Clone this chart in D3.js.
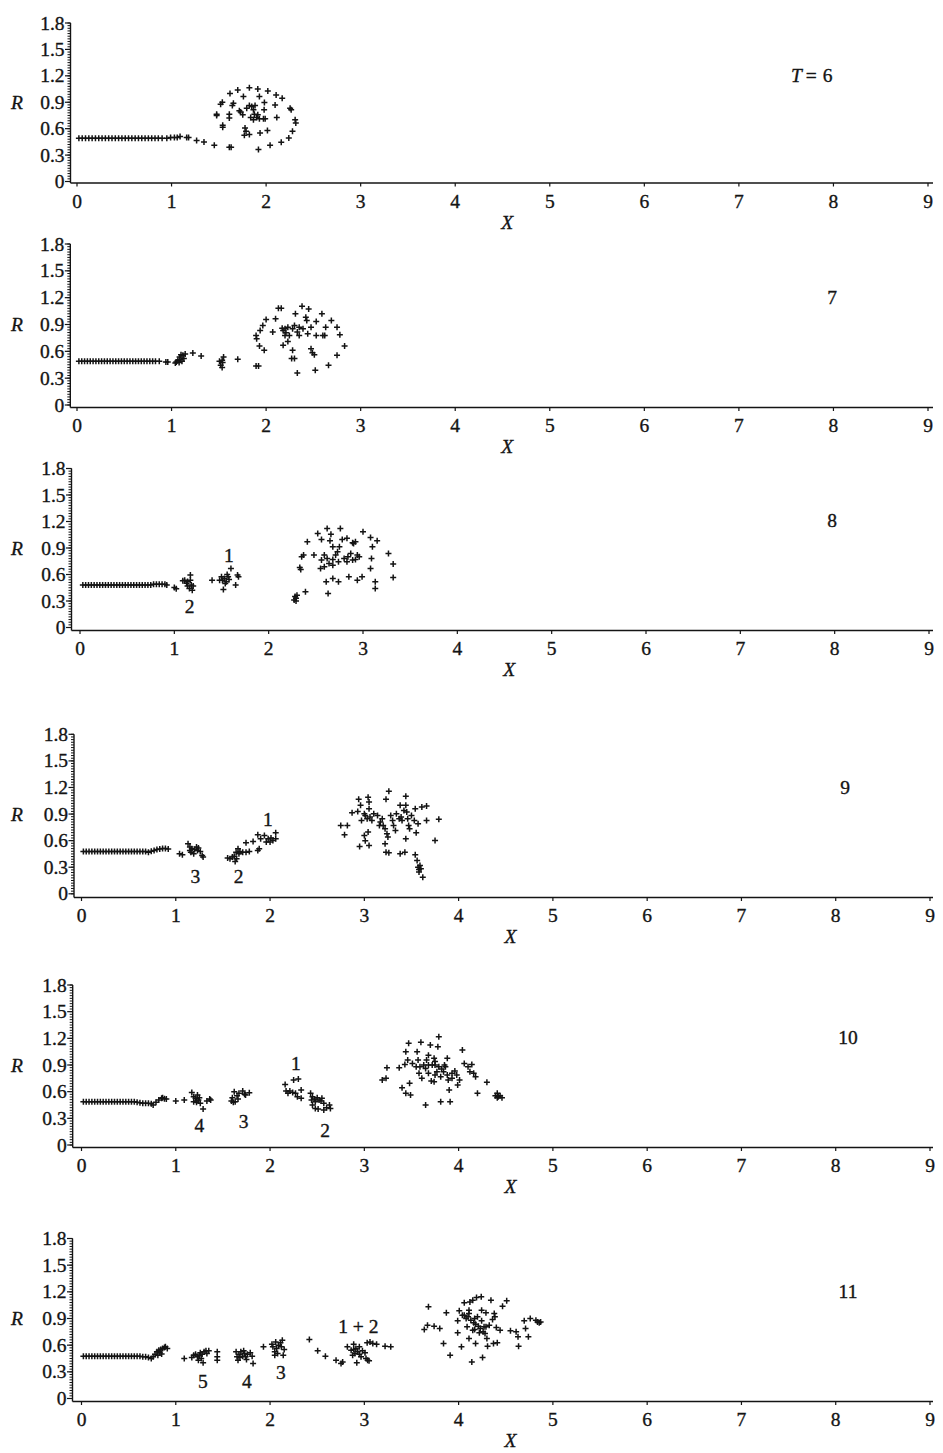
<!DOCTYPE html>
<html>
<head>
<meta charset="utf-8">
<script src="https://cdn.jsdelivr.net/npm/d3@7"></script>
<style>
  body { margin: 0; background: #fff; }
  text { font-family: "Liberation Serif", "Times New Roman", serif; fill: #141414; stroke: #141414; stroke-width: 0.35px; }
</style>
</head>
<body>
<svg id="chart" width="943" height="1453"></svg>
<script>
// Axis ticks shared by every panel
const xTicks = [0, 1, 2, 3, 4, 5, 6, 7, 8, 9];
const rTicks = [0, 0.3, 0.6, 0.9, 1.2, 1.5, 1.8];
const rTickLabels = ["0", "0.3", "0.6", "0.9", "1.2", "1.5", "1.8"];

// Time-step captions
const timeLabels = ["6", "7", "8", "9", "10", "11"];

// Particle positions [X, R] at each time step
const t6Points = [
  [0.02,0.49],[0.055,0.49],[0.09,0.49],[0.125,0.49],[0.16,0.49],[0.195,0.49],[0.23,0.49],[0.265,0.49],
  [0.30,0.49],[0.335,0.49],[0.37,0.49],[0.405,0.49],[0.44,0.49],[0.475,0.49],[0.51,0.49],[0.545,0.49],
  [0.58,0.49],[0.615,0.49],[0.65,0.49],[0.685,0.49],[0.72,0.49],[0.755,0.49],[0.79,0.49],[0.825,0.49],
  [0.86,0.49],[0.90,0.49],[0.95,0.49],[0.99,0.50],[1.03,0.50],[1.06,0.50],[1.09,0.51],[1.16,0.50],[1.18,0.50],
  [1.265,0.465],[1.343,0.45],[1.452,0.413],[1.611,0.39],[1.63,0.39],
  [1.477,0.765],[1.477,0.75],[1.519,0.878],[1.537,0.90],[1.541,0.638],[1.541,0.615],[1.618,1.0],[1.70,1.04],
  [1.654,0.89],[1.643,0.863],[1.611,0.765],[1.611,0.72],[1.76,0.964],[1.823,1.065],[1.912,1.05],[2.018,1.028],
  [2.106,0.983],[2.17,0.945],[1.929,0.964],[1.982,0.896],[2.095,0.87],[1.979,0.814],[2.254,0.833],[2.265,0.814],
  [2.307,0.70],[2.314,0.664],[2.279,0.57],[2.24,0.495],[2.16,0.446],[2.042,0.413],[1.919,0.364],[2.113,0.728],
  [2.014,0.578],[1.90,0.728],[1.837,0.728],[1.866,0.70],[1.929,0.713],[1.972,0.713],[1.99,0.713],[1.795,0.833],
  [1.823,0.863],[1.848,0.851],[1.883,0.863],[1.731,0.788],[1.753,0.758],[1.717,0.803],[1.777,0.608],[1.788,0.57],
  [1.823,0.533],[1.77,0.525],[1.936,0.551],[1.876,0.765],[1.912,0.758],[1.866,0.814]
];

const t7Points = [
  [0.02,0.49],[0.05,0.49],[0.08,0.49],[0.11,0.49],[0.14,0.49],[0.17,0.49],[0.20,0.49],[0.23,0.49],[0.26,0.49],
  [0.29,0.49],[0.32,0.49],[0.35,0.49],[0.38,0.49],[0.41,0.49],[0.44,0.49],[0.47,0.49],[0.50,0.49],[0.53,0.49],
  [0.56,0.49],[0.59,0.49],[0.62,0.49],[0.65,0.49],[0.68,0.49],[0.71,0.49],[0.74,0.49],[0.77,0.49],[0.80,0.49],
  [0.83,0.49],[0.87,0.49],[0.94,0.48],[0.96,0.48],
  [1.04,0.47],[1.05,0.48],[1.067,0.50],[1.085,0.537],[1.10,0.563],[1.12,0.556],[1.13,0.52],[1.11,0.49],[1.08,0.474],
  [1.144,0.57],[1.09,0.51],[1.225,0.581],[1.313,0.548],
  [1.535,0.50],[1.54,0.474],[1.52,0.444],[1.55,0.537],[1.507,0.489],[1.535,0.42],[1.70,0.511],[1.894,0.437],[1.92,0.437],
  [1.98,0.611],[1.93,0.659],[1.90,0.741],[1.894,0.778],[1.937,0.833],[1.965,0.889],[2.0,0.956],[2.07,0.815],
  [2.10,0.963],[2.13,1.081],[2.16,1.081],[2.17,0.859],[2.18,0.833],[2.20,0.852],[2.21,0.807],[2.23,0.87],
  [2.246,0.778],[2.23,0.711],[2.18,0.667],[2.28,0.852],[2.30,0.889],[2.31,1.019],[2.38,1.104],[2.45,1.074],
  [2.42,0.981],[2.43,0.944],[2.39,0.852],[2.44,0.796],[2.475,0.87],[2.53,0.933],[2.59,1.019],[2.69,0.944],
  [2.75,0.87],[2.78,0.785],[2.83,0.659],[2.75,0.556],[2.66,0.444],[2.52,0.389],[2.33,0.359],[2.27,0.519],
  [2.30,0.519],[2.28,0.611],[2.475,0.63],[2.49,0.585],[2.51,0.563],[2.53,0.778],[2.60,0.778],[2.63,0.87],
  [2.62,0.778],[2.35,0.778],[2.35,0.87],[2.33,0.815],[2.20,0.778]
];

const t8Points = [
  [0.03,0.48],[0.06,0.48],[0.09,0.48],[0.12,0.48],[0.15,0.48],[0.18,0.48],[0.21,0.48],[0.24,0.48],[0.27,0.48],
  [0.30,0.48],[0.33,0.48],[0.36,0.48],[0.39,0.48],[0.42,0.48],[0.45,0.48],[0.48,0.48],[0.51,0.48],[0.54,0.48],
  [0.57,0.48],[0.60,0.48],[0.63,0.48],[0.66,0.48],[0.69,0.48],[0.72,0.48],[0.75,0.48],[0.78,0.49],[0.81,0.49],
  [0.84,0.49],[0.87,0.49],[0.90,0.49],[0.92,0.48],
  [1.0,0.453],[1.02,0.44],
  [1.09,0.529],[1.11,0.536],[1.13,0.50],[1.14,0.52],[1.17,0.593],[1.17,0.536],[1.18,0.48],[1.16,0.442],
  [1.19,0.423],[1.20,0.47],[1.14,0.47],
  [1.40,0.536],[1.50,0.574],[1.51,0.536],[1.53,0.555],[1.55,0.518],[1.57,0.574],[1.58,0.544],[1.52,0.43],
  [1.54,0.499],[1.60,0.668],[1.48,0.536],[1.56,0.60],[1.65,0.48],[1.67,0.593],[1.68,0.574],
  [2.27,0.31],[2.29,0.33],[2.30,0.366],[2.28,0.35],[2.29,0.30],[2.39,0.404],
  [2.33,0.68],[2.34,0.657],[2.35,0.80],[2.37,0.82],[2.41,0.97],[2.48,0.82],[2.52,1.065],[2.56,0.997],
  [2.62,1.122],[2.66,1.057],[2.76,1.122],[2.83,1.009],[2.89,0.96],[3.0,1.084],[3.08,1.02],[3.15,0.982],
  [3.10,0.914],[3.27,0.839],[3.32,0.718],[3.32,0.567],[3.13,0.518],[3.13,0.442],[3.08,0.669],[3.09,0.782],
  [2.99,0.574],[2.94,0.536],[2.85,0.574],[2.74,0.518],[2.68,0.555],[2.61,0.518],[2.63,0.385],[2.55,0.669],
  [2.56,0.763],[2.59,0.82],[2.62,0.782],[2.64,0.725],[2.68,0.77],[2.71,0.82],[2.73,0.858],[2.75,0.914],
  [2.78,0.997],[2.80,0.782],[2.84,0.80],[2.87,0.839],[2.89,0.763],[2.92,0.77],[2.94,0.82],[2.92,0.97],
  [2.96,0.80],[2.83,0.744],[2.74,0.744],[2.68,0.706],[2.59,0.688],[2.65,0.982],[2.68,0.914],[2.90,0.952]
];

const t9Points = [
  [0.02,0.478],[0.05,0.478],[0.08,0.478],[0.11,0.478],[0.14,0.478],[0.17,0.478],[0.20,0.478],[0.23,0.478],
  [0.26,0.478],[0.29,0.478],[0.32,0.478],[0.35,0.478],[0.38,0.478],[0.41,0.478],[0.44,0.478],[0.47,0.478],
  [0.50,0.478],[0.53,0.478],[0.56,0.478],[0.59,0.478],[0.62,0.478],[0.65,0.478],[0.68,0.478],[0.71,0.47],
  [0.74,0.48],[0.77,0.49],[0.80,0.50],[0.83,0.505],[0.86,0.51],[0.89,0.51],[0.92,0.505],
  [1.04,0.452],[1.07,0.44],
  [1.13,0.565],[1.15,0.527],[1.17,0.508],[1.20,0.50],[1.22,0.527],[1.24,0.516],[1.26,0.478],[1.16,0.47],
  [1.19,0.452],[1.28,0.433],[1.29,0.414],[1.23,0.49],[1.15,0.49],
  [1.55,0.403],[1.575,0.395],[1.60,0.414],[1.62,0.425],[1.64,0.47],[1.66,0.508],[1.67,0.452],[1.645,0.395],
  [1.63,0.365],[1.68,0.478],[1.71,0.47],[1.745,0.47],[1.78,0.478],
  [1.745,0.576],[1.82,0.591],[1.87,0.49],[1.885,0.508],[1.90,0.621],[1.87,0.666],[1.94,0.659],[1.98,0.621],
  [2.0,0.584],[2.03,0.602],[2.06,0.621],[2.01,0.629],[2.06,0.689],[1.96,0.584],
  [2.75,0.772],[2.82,0.772],[2.79,0.666],[2.87,0.915],[2.93,0.93],[2.96,0.998],[2.94,1.066],[3.04,1.09],
  [3.05,1.035],[3.05,0.96],[3.0,0.659],[3.01,0.60],[3.05,0.546],[2.95,0.535],[3.04,0.697],[3.01,0.885],
  [3.03,0.847],[3.06,0.866],[3.08,0.828],[3.10,0.904],[3.14,0.885],[3.17,0.81],[3.19,0.847],[3.20,0.772],
  [3.22,0.734],[3.24,0.678],[3.22,0.565],[3.25,0.64],[3.23,1.066],[3.26,1.156],[3.28,0.885],[3.30,0.828],
  [3.31,0.772],[3.23,0.47],[3.26,0.463],[3.34,0.904],[3.37,0.847],[3.38,0.998],[3.40,0.828],[3.44,1.10],
  [3.44,0.998],[3.45,0.922],[3.46,0.847],[3.47,0.772],[3.48,0.734],[3.44,0.621],[3.43,0.47],[3.38,0.452],
  [3.50,0.885],[3.53,0.828],[3.54,0.96],[3.55,0.689],[3.57,0.79],[3.61,0.979],[3.66,0.99],[3.66,0.828],
  [3.79,0.84],[3.75,0.602],[3.54,0.44],[3.56,0.376],[3.57,0.30],[3.58,0.275],[3.60,0.282],[3.58,0.245],
  [3.62,0.188],[3.59,0.32],[3.42,0.941],[3.39,0.866],[3.16,0.772],[3.33,0.715],[2.97,0.828],[3.0,0.904]
];

const t10Points = [
  [0.02,0.487],[0.05,0.487],[0.08,0.487],[0.11,0.487],[0.14,0.487],[0.17,0.487],[0.20,0.487],[0.23,0.487],
  [0.26,0.487],[0.29,0.487],[0.32,0.487],[0.35,0.487],[0.38,0.487],[0.41,0.487],[0.44,0.487],[0.47,0.487],
  [0.50,0.487],[0.53,0.487],[0.56,0.487],[0.59,0.48],[0.62,0.475],[0.65,0.47],[0.68,0.47],[0.71,0.47],
  [0.74,0.465],[0.76,0.45],[0.79,0.48],[0.82,0.506],[0.85,0.525],[0.86,0.532],[0.88,0.52],[0.90,0.517],
  [1.0,0.495],[1.09,0.506],
  [1.17,0.592],[1.19,0.544],[1.21,0.525],[1.22,0.495],[1.24,0.506],[1.25,0.532],[1.22,0.48],[1.26,0.469],
  [1.29,0.405],[1.33,0.495],[1.36,0.517],[1.37,0.506],[1.19,0.487],[1.23,0.562],
  [1.59,0.495],[1.60,0.532],[1.62,0.60],[1.65,0.555],[1.66,0.517],[1.67,0.581],[1.71,0.607],[1.73,0.57],
  [1.74,0.562],[1.78,0.589],[1.63,0.487],[1.61,0.48],
  [2.16,0.682],[2.17,0.607],[2.21,0.607],[2.24,0.592],[2.27,0.581],[2.25,0.731],[2.30,0.742],[2.33,0.618],
  [2.33,0.525],[2.29,0.544],[2.19,0.581],
  [2.43,0.581],[2.45,0.544],[2.47,0.517],[2.48,0.487],[2.50,0.532],[2.52,0.506],[2.54,0.495],[2.55,0.525],
  [2.45,0.45],[2.48,0.412],[2.51,0.405],[2.57,0.394],[2.60,0.42],[2.63,0.45],[2.64,0.412],[2.57,0.469],[2.44,0.506],
  [3.19,0.731],[3.23,0.75],[3.24,0.87],[3.37,0.87],[3.40,0.645],[3.44,0.581],[3.49,0.562],[3.43,0.907],
  [3.44,1.05],[3.47,1.144],[3.46,0.956],[3.48,0.694],[3.51,0.918],[3.55,0.881],[3.56,1.05],[3.57,0.956],
  [3.58,0.806],[3.60,1.155],[3.61,0.75],[3.63,0.90],[3.65,0.45],[3.66,0.956],[3.68,1.01],[3.68,0.806],
  [3.70,1.125],[3.71,0.72],[3.74,0.712],[3.74,0.975],[3.75,0.90],[3.77,0.825],[3.79,1.219],[3.78,1.106],
  [3.81,0.769],[3.82,0.855],[3.85,0.90],[3.88,0.975],[3.81,0.487],[3.91,0.487],[3.89,0.731],[3.90,0.619],
  [3.93,0.806],[3.96,0.832],[3.98,0.787],[3.99,0.675],[4.04,1.069],[4.01,0.731],[4.06,0.918],[4.10,0.881],
  [4.12,0.825],[4.14,0.907],[4.16,0.806],[4.18,0.769],[4.20,0.581],[4.30,0.705],
  [4.39,0.555],[4.41,0.581],[4.42,0.544],[4.44,0.555],[4.46,0.532],[4.41,0.532],
  [3.72,0.90],[3.75,0.938],[3.79,0.881],[3.84,0.825],[3.88,0.787],[3.65,0.862],[3.68,0.90],[3.59,0.881],
  [3.86,0.881],[3.93,0.75],[3.75,0.787]
];

const t11Points = [
  [0.02,0.476],[0.05,0.476],[0.08,0.476],[0.11,0.476],[0.14,0.476],[0.17,0.476],[0.20,0.476],[0.23,0.476],
  [0.26,0.476],[0.29,0.476],[0.32,0.476],[0.35,0.476],[0.38,0.476],[0.41,0.476],[0.44,0.476],[0.47,0.476],
  [0.50,0.476],[0.53,0.476],[0.56,0.476],[0.59,0.476],[0.62,0.476],[0.65,0.47],[0.68,0.469],[0.71,0.46],
  [0.74,0.45],[0.76,0.469],[0.78,0.499],[0.80,0.525],[0.82,0.544],[0.84,0.551],[0.86,0.562],[0.88,0.574],
  [0.89,0.581],[0.91,0.562],[0.83,0.514],[0.85,0.50],[0.81,0.487],
  [1.09,0.45],
  [1.17,0.461],[1.19,0.487],[1.21,0.499],[1.23,0.469],[1.25,0.487],[1.26,0.514],[1.28,0.499],[1.30,0.525],
  [1.32,0.536],[1.33,0.506],[1.27,0.45],[1.29,0.401],[1.24,0.431],[1.35,0.536],[1.44,0.525],[1.44,0.469],[1.44,0.431],
  [1.64,0.525],[1.65,0.469],[1.66,0.431],[1.67,0.499],[1.69,0.525],[1.71,0.476],[1.73,0.506],[1.74,0.469],
  [1.76,0.499],[1.79,0.514],[1.81,0.476],[1.82,0.394],[1.68,0.461],[1.75,0.439],[1.72,0.536],
  [1.93,0.581],
  [2.02,0.611],[2.03,0.581],[2.05,0.525],[2.06,0.637],[2.07,0.562],[2.08,0.506],[2.09,0.60],[2.11,0.626],
  [2.12,0.581],[2.13,0.656],[2.14,0.487],[2.15,0.551],[2.05,0.487],
  [2.417,0.664],[2.505,0.536],[2.587,0.476],[2.70,0.431],[2.753,0.394],[2.77,0.412],[2.82,0.581],[2.86,0.544],
  [2.887,0.611],[2.90,0.506],[2.876,0.487],[2.91,0.562],[2.93,0.525],[2.947,0.499],[2.92,0.401],[2.965,0.469],
  [2.98,0.536],[3.007,0.514],[3.018,0.45],[3.035,0.431],[3.05,0.424],[3.03,0.626],[3.06,0.637],[3.09,0.619],
  [3.13,0.611],[3.22,0.589],[3.28,0.581],[2.947,0.581],[2.887,0.551],
  [3.636,0.776],[3.67,0.825],[3.74,0.814],[3.80,0.787],[3.68,1.031],[3.84,0.619],[3.87,0.964],[3.91,0.487],
  [3.99,0.739],[3.99,0.874],[4.007,0.986],[4.03,0.581],[4.04,0.937],[4.06,1.076],[4.08,0.90],[4.09,0.806],
  [4.10,0.919],[4.11,0.994],[4.12,1.087],[4.11,0.675],[4.14,0.412],[4.15,1.106],[4.16,0.851],[4.17,0.776],
  [4.18,0.619],[4.19,1.136],[4.20,0.919],[4.21,0.814],[4.22,0.739],[4.24,1.144],[4.244,0.994],[4.244,0.874],
  [4.254,0.461],[4.27,0.806],[4.28,0.731],[4.30,0.675],[4.307,0.589],[4.29,0.964],[4.325,0.825],[4.343,1.106],
  [4.36,0.889],[4.378,0.956],[4.385,0.919],[4.40,0.799],[4.37,0.619],[4.41,0.626],[4.44,0.769],[4.466,1.039],
  [4.51,1.099],[4.55,0.761],[4.61,0.75],[4.63,0.694],[4.636,0.589],[4.696,0.874],[4.71,0.787],[4.74,0.694],
  [4.76,0.90],[4.82,0.881],[4.837,0.862],[4.855,0.851],[4.87,0.862],
  [4.06,0.937],[4.13,0.881],[4.18,0.836],[4.23,0.787],[4.26,0.75],[4.17,0.90],[4.29,0.806],[4.15,0.769],[4.11,0.956]
];

// Group numbers written beside the clusters: [text, X, R]
const t6Labels = [];
const t7Labels = [];
const t8Labels = [["1", 1.577, 0.81], ["2", 1.162, 0.242]];
const t9Labels = [["1", 1.977, 0.836], ["2", 1.667, 0.20], ["3", 1.209, 0.20]];
const t10Labels = [["1", 2.273, 0.915], ["2", 2.583, 0.161], ["3", 1.72, 0.27], ["4", 1.251, 0.214]];
const t11Labels = [["1 + 2", 2.936, 0.814], ["3", 2.116, 0.289], ["4", 1.754, 0.187], ["5", 1.288, 0.187]];

// Panel geometry (pixels)
const panels = [
  { pts: t6Points,  labels: t6Labels,  caption: timeLabels[0], axisX: 70.5, xr: [77, 928],   axisY: 183,    y0: 181.5,  h: 158.5, capX: 791, first: true },
  { pts: t7Points,  labels: t7Labels,  caption: timeLabels[1], axisX: 70.3, xr: [77, 928],   axisY: 407.5,  y0: 405,    h: 161,   capX: 832 },
  { pts: t8Points,  labels: t8Labels,  caption: timeLabels[2], axisX: 71.5, xr: [80, 929],   axisY: 630.5,  y0: 627.5,  h: 159,   capX: 832 },
  { pts: t9Points,  labels: t9Labels,  caption: timeLabels[3], axisX: 74,   xr: [81.5, 930], axisY: 897.5,  y0: 893.8,  h: 159.5, capX: 845 },
  { pts: t10Points, labels: t10Labels, caption: timeLabels[4], axisX: 72.7, xr: [81.5, 930], axisY: 1147.5, y0: 1145,   h: 160,   capX: 848 },
  { pts: t11Points, labels: t11Labels, caption: timeLabels[5], axisX: 72.5, xr: [81.5, 930], axisY: 1401.5, y0: 1398.5, h: 160,   capX: 848 }
];

const ink = "#141414";
const fs = 19.5;
const svg = d3.select("#chart");
svg.append("rect").attr("width", 943).attr("height", 1453).attr("fill", "#fff");

const plus = "M-3,0H3M0,-3V3";

panels.forEach(p => {
  const x = d3.scaleLinear().domain([0, 9]).range(p.xr);
  const y = d3.scaleLinear().domain([0, 1.8]).range([p.y0, p.y0 - p.h]);
  const g = svg.append("g");

  // vertical axis with fine graduation
  g.append("line")
    .attr("x1", p.axisX).attr("x2", p.axisX)
    .attr("y1", p.axisY).attr("y2", y(1.8))
    .attr("stroke", ink).attr("stroke-width", 1.4);
  g.selectAll(".minor").data(d3.range(0, 61).map(i => i * 0.03))
    .join("line")
    .attr("x1", p.axisX - 3).attr("x2", p.axisX)
    .attr("y1", d => y(d)).attr("y2", d => y(d))
    .attr("stroke", ink).attr("stroke-width", 1);
  g.selectAll(".major").data(rTicks)
    .join("line")
    .attr("x1", p.axisX - 5.5).attr("x2", p.axisX)
    .attr("y1", d => y(d)).attr("y2", d => y(d))
    .attr("stroke", ink).attr("stroke-width", 1.2);
  g.selectAll(".rlab").data(rTicks)
    .join("text")
    .attr("x", p.axisX - 6).attr("y", d => y(d) + 6.5)
    .attr("text-anchor", "end").attr("font-size", fs)
    .text((d, i) => rTickLabels[i]);
  g.append("text")
    .attr("x", 11).attr("y", y(0.9) + 6.5)
    .attr("font-size", fs).attr("font-style", "italic")
    .text("R");

  // horizontal axis
  g.append("line")
    .attr("x1", p.axisX).attr("x2", 933)
    .attr("y1", p.axisY).attr("y2", p.axisY)
    .attr("stroke", ink).attr("stroke-width", 1.6);
  g.selectAll(".xt").data(xTicks)
    .join("line")
    .attr("x1", d => x(d)).attr("x2", d => x(d))
    .attr("y1", p.axisY).attr("y2", p.axisY + 3.5)
    .attr("stroke", ink).attr("stroke-width", 1.2);
  g.selectAll(".xlab").data(xTicks)
    .join("text")
    .attr("x", d => x(d)).attr("y", p.axisY + 24.5)
    .attr("text-anchor", "middle").attr("font-size", fs)
    .text(d => d);
  g.append("text")
    .attr("x", x(4.55)).attr("y", p.axisY + 45.5)
    .attr("text-anchor", "middle").attr("font-size", fs).attr("font-style", "italic")
    .text("X");

  // time caption
  if (p.first) {
    const t = g.append("text").attr("x", p.capX).attr("y", p.axisY - 101).attr("font-size", fs);
    t.append("tspan").attr("font-style", "italic").text("T");
    t.append("tspan").attr("dx", 4).text("=");
    t.append("tspan").attr("dx", 6).text(p.caption);
  } else {
    g.append("text")
      .attr("x", p.capX).attr("y", p.axisY - 104)
      .attr("text-anchor", "middle").attr("font-size", fs)
      .text(p.caption);
  }

  // particles
  g.selectAll(".pt").data(p.pts)
    .join("path")
    .attr("d", plus)
    .attr("transform", d => `translate(${x(d[0])},${y(d[1])})`)
    .attr("stroke", ink).attr("stroke-width", 1.5).attr("fill", "none");

  // cluster numbers
  g.selectAll(".grp").data(p.labels)
    .join("text")
    .attr("x", d => x(d[1])).attr("y", d => y(d[2]) + 6.5)
    .attr("text-anchor", "middle").attr("font-size", fs)
    .text(d => d[0]);
});
</script>
</body>
</html>
